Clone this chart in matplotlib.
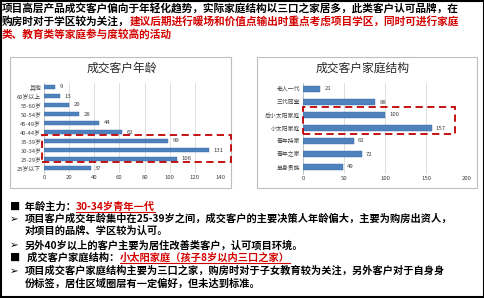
import matplotlib
matplotlib.use("Agg")
import matplotlib.pyplot as plt
from matplotlib.patches import Rectangle
from matplotlib.lines import Line2D

plt.rcParams['font.family'] = ['Noto Sans CJK SC', 'DejaVu Sans']

# ======================= DONNEES =======================
age_labels = ["25岁以下", "25-29岁", "30-34岁", "35-39岁", "40-44岁",
              "45-49岁", "50-54岁", "55-60岁", "60岁以上", "其他"]
age_values = [37, 106, 131, 99, 62, 44, 28, 20, 13, 9]
age_ticks = [0, 20, 40, 60, 80, 100, 120, 140]

fam_labels = ["单身贵族", "青年之家", "青年持家", "小太阳家庭",
              "后小太阳家庭", "三代同堂", "老人一代"]
fam_values = [49, 72, 62, 157, 100, 88, 21]
fam_ticks = [0, 50, 100, 150, 200]

BLEU = "#4F81BD"
ROUGE = "#D40000"
W, H = 485, 298
T_HAUT = 7.7
T_BAS = 7.35

fig = plt.figure(figsize=(4.85, 2.98), dpi=100)
bg = fig.add_axes([0, 0, 1, 1])
bg.set_xlim(0, W)
bg.set_ylim(H, 0)
bg.axis('off')

# cadre noir + cadres des graphes
bg.add_patch(Rectangle((0.8, 0.8), W - 1.6, H - 1.6, fill=False, ec="black", lw=1.5))
bg.add_patch(Rectangle((10, 57), 221, 131, fill=False, ec="#BFBFBF", lw=0.8))
bg.add_patch(Rectangle((257, 57), 220, 131, fill=False, ec="#BFBFBF", lw=0.8))


def ecrire(segments, x, y, size=T_BAS):
    """segments = [(texte, couleur, souligne)] enchaines sur une ligne"""
    prev = None
    arts = []
    for txt, col, ul in segments:
        if prev is None:
            t = bg.text(x, y, txt, color=col, fontsize=size, fontweight='bold',
                        va='center', ha='left')
        else:
            t = bg.annotate(txt, xy=(1, 0.5), xycoords=prev, color=col, fontsize=size,
                            fontweight='bold', va='center', ha='left')
        arts.append((t, ul, col))
        prev = t
    return arts


lignes = []
lignes += ecrire([("项目高层产品成交客户偏向于年轻化趋势，实际家庭结构以三口之家居多，此类客户认可品牌，在", "black", False)], 2, 8, T_HAUT)
lignes += ecrire([("购房时对于学区较为关注，", "black", False),
                  ("建议后期进行暖场和价值点输出时重点考虑项目学区，同时可进行家庭", ROUGE, False)], 2, 21, T_HAUT)
lignes += ecrire([("类、教育类等家庭参与度较高的活动", ROUGE, False)], 2, 34, T_HAUT)

lignes += ecrire([("■", "black", False), ("  年龄主力：", "black", False),
                  ("30-34岁青年一代", ROUGE, True)], 10, 207)
lignes += ecrire([("➢", "black", False)], 10, 219)
lignes += ecrire([("项目客户成交年龄集中在25-39岁之间，成交客户的主要决策人年龄偏大，主要为购房出资人，", "black", False)], 25, 219)
lignes += ecrire([("对项目的品牌、学区较为认可。", "black", False)], 25, 231)
lignes += ecrire([("➢", "black", False)], 10, 245)
lignes += ecrire([("另外40岁以上的客户主要为居住改善类客户，认可项目环境。", "black", False)], 25, 245)
lignes += ecrire([("■", "black", False), ("   成交客户家庭结构：", "black", False),
                  ("小太阳家庭（孩子8岁以内三口之家）", ROUGE, True)], 10, 258)
lignes += ecrire([("➢", "black", False)], 10, 271)
lignes += ecrire([("项目成交客户家庭结构主要为三口之家，购房时对于子女教育较为关注，另外客户对于自身身", "black", False)], 25, 271)
lignes += ecrire([("份标签，居住区域圈层有一定偏好，但未达到标准。", "black", False)], 25, 284)


def graphe(rect, labels, values, ticks, title, bar_h, titre_x):
    ax = fig.add_axes(rect)
    pos = range(len(labels))
    bars = ax.barh(pos, values, height=bar_h, color=BLEU, edgecolor="#3A6BA5", lw=0.3, zorder=3)
    for b, v in zip(bars, values):
        ax.text(b.get_width() + ticks[-1] * 0.025, b.get_y() + b.get_height() / 2, str(v),
                va='center', ha='left', fontsize=4.3, color="#404040")
    ax.set_yticks(list(pos))
    ax.set_yticklabels(labels, fontsize=4.2, color="#404040")
    ax.set_xticks(ticks)
    ax.set_xticklabels([str(t) for t in ticks], fontsize=4.3, color="#404040")
    ax.set_xlim(0, ticks[-1])
    ax.set_ylim(-0.5, len(labels) - 0.5)
    ax.grid(axis='x', color="#D9D9D9", lw=0.6, zorder=0)
    for s in ["top", "right", "bottom"]:
        ax.spines[s].set_visible(False)
    ax.spines["left"].set_color("#BFBFBF")
    ax.spines["left"].set_linewidth(0.6)
    ax.tick_params(length=0, pad=2)
    bg.text(titre_x, 68, title, fontsize=8.5, ha='center', va='center', color="#262626")
    return ax


ax1 = graphe([44 / W, 1 - 172.5 / H, 176 / W, 90 / H], age_labels, age_values,
             age_ticks, "成交客户年龄", 0.5, 122)
ax2 = graphe([303 / W, 1 - 173.5 / H, 164 / W, 91 / H], fam_labels, fam_values,
             fam_ticks, "成交客户家庭结构", 0.42, 363)

# cadres rouges pointilles
ax1.add_patch(Rectangle((-1.6, 0.67), 150.6, 3.0, fill=False, ec="#C00000", lw=1.3,
                        ls=(0, (4, 2.5)), clip_on=False, zorder=5))
ax2.add_patch(Rectangle((0, 2.54), 185, 2.06, fill=False, ec="#C00000", lw=1.3,
                        ls=(0, (4, 2.5)), clip_on=False, zorder=5))

# soulignement des textes rouges
fig.canvas.draw()
r = fig.canvas.get_renderer()
inv = bg.transData.inverted()
for t, ul, col in lignes:
    if ul:
        bb = t.get_window_extent(r)
        (x0, y0), (x1, y1) = inv.transform([(bb.x0, bb.y0), (bb.x1, bb.y1)])
        bg.add_line(Line2D([x0, x1], [y0 - 0.5, y0 - 0.5], color=col, lw=0.8))

fig.savefig("out.png", dpi=100)
